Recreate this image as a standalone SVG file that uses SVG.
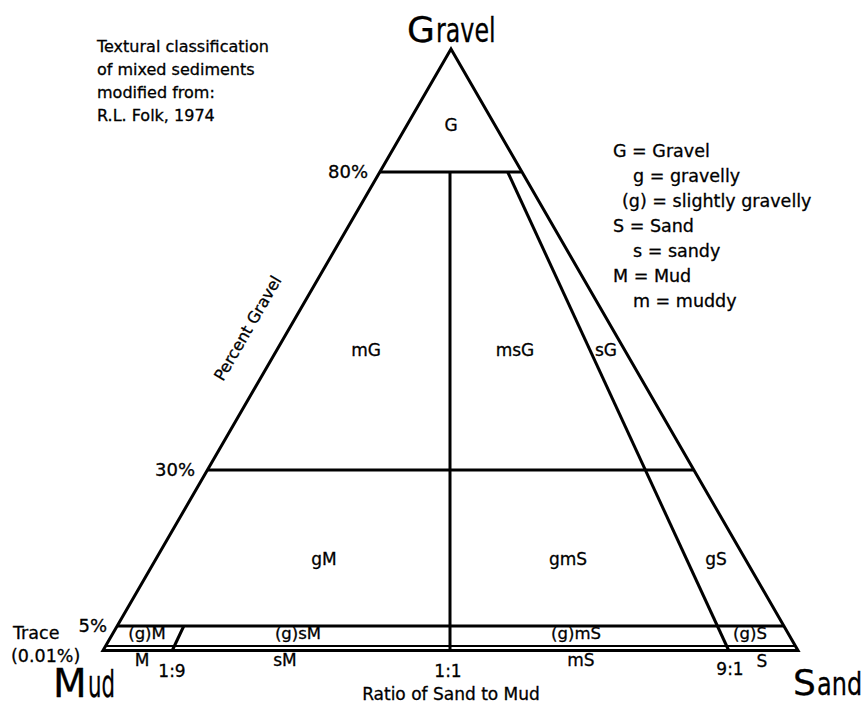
<svg xmlns="http://www.w3.org/2000/svg" width="868" height="707" viewBox="0 0 868 707">
<style>
text{font-family:"DejaVu Sans","Liberation Sans",sans-serif;fill:#000;stroke:#000;stroke-width:0.3}
.l{stroke:#000;stroke-width:3;fill:none}
.t{font-size:16px}
.g{font-size:17.5px}
.p{font-size:18px;text-anchor:end}
.r{font-size:17px;text-anchor:middle}
.s{font-size:16.5px;text-anchor:middle}
.b{font-size:17px;text-anchor:middle}
.big{stroke-width:0.4}
</style>
<rect width="868" height="707" fill="#fff" stroke="none"/>
<g id="connectors">
<polygon class="l" points="451,49 103,650.5 798,650.5"/>
<line class="l" x1="380" y1="172" x2="521" y2="172"/>
<line class="l" x1="207.6" y1="470" x2="693.4" y2="470"/>
<line class="l" x1="117.5" y1="626" x2="783.5" y2="626"/>
<line class="l" style="stroke-width:2" x1="106" y1="646" x2="795" y2="646"/>
<line class="l" x1="450" y1="172" x2="450" y2="650"/>
<line class="l" x1="507.7" y1="172" x2="728.5" y2="650"/>
<line class="l" x1="183.8" y1="626" x2="172.5" y2="650"/>
</g>
<g id="apex-labels" class="big">
<text x="407" y="42" font-size="36">G</text>
<text transform="translate(436,42) scale(0.72,1)" font-size="33">ravel</text>
<text x="53" y="697" font-size="39">M</text>
<text transform="translate(88,697) scale(0.56,1)" font-size="38">ud</text>
<text x="793" y="695" font-size="36">S</text>
<text transform="translate(817,695) scale(0.75,1)" font-size="32">and</text>
</g>
<g id="caption">
<text class="t" x="97" y="52">Textural classification</text>
<text class="t" x="97" y="75">of mixed sediments</text>
<text class="t" x="97" y="98">modified from:</text>
<text class="t" x="97" y="121">R.L. Folk, 1974</text>
</g>
<g id="legend">
<text class="g" x="613" y="157">G = Gravel</text>
<text class="g" x="633" y="182">g = gravelly</text>
<text class="g" x="622" y="207" font-size="18">(g) = slightly gravelly</text>
<text class="g" x="613" y="232">S = Sand</text>
<text class="g" x="633" y="257">s = sandy</text>
<text class="g" x="613" y="282">M = Mud</text>
<text class="g" x="633" y="307">m = muddy</text>
</g>
<g id="axis-labels">
<text class="p" x="368" y="178">80%</text>
<text class="p" x="195" y="476">30%</text>
<text class="p" x="107" y="632">5%</text>
<text class="g" x="13" y="639">Trace</text>
<text class="g" x="11" y="662">(0.01%)</text>
<text class="t" transform="translate(223,382) rotate(-60)">Percent Gravel</text>
<text class="b" x="172" y="677">1:9</text>
<text class="b" x="448" y="677">1:1</text>
<text class="b" x="730" y="675">9:1</text>
<text class="b" x="451" y="700" font-size="18">Ratio of Sand to Mud</text>
</g>
<g id="node-G"><text class="r" x="451" y="131">G</text></g>
<g id="node-mG"><text class="r" x="366" y="356">mG</text></g>
<g id="node-msG"><text class="r" x="515" y="356">msG</text></g>
<g id="node-sG"><text class="r" x="606" y="356">sG</text></g>
<g id="node-gM"><text class="r" x="324" y="565">gM</text></g>
<g id="node-gmS"><text class="r" x="568" y="565">gmS</text></g>
<g id="node-gS"><text class="r" x="716" y="565">gS</text></g>
<g id="node-gM-trace"><text class="s" x="147" y="639">(g)M</text></g>
<g id="node-gsM"><text class="s" x="298" y="639">(g)sM</text></g>
<g id="node-gmS-trace"><text class="s" x="576" y="639">(g)mS</text></g>
<g id="node-gS-trace"><text class="s" x="750" y="639">(g)S</text></g>
<g id="node-M"><text class="b" x="142" y="666">M</text></g>
<g id="node-sM"><text class="b" x="285" y="666">sM</text></g>
<g id="node-mS"><text class="b" x="581" y="666">mS</text></g>
<g id="node-S"><text class="b" x="762" y="667">S</text></g>
</svg>
